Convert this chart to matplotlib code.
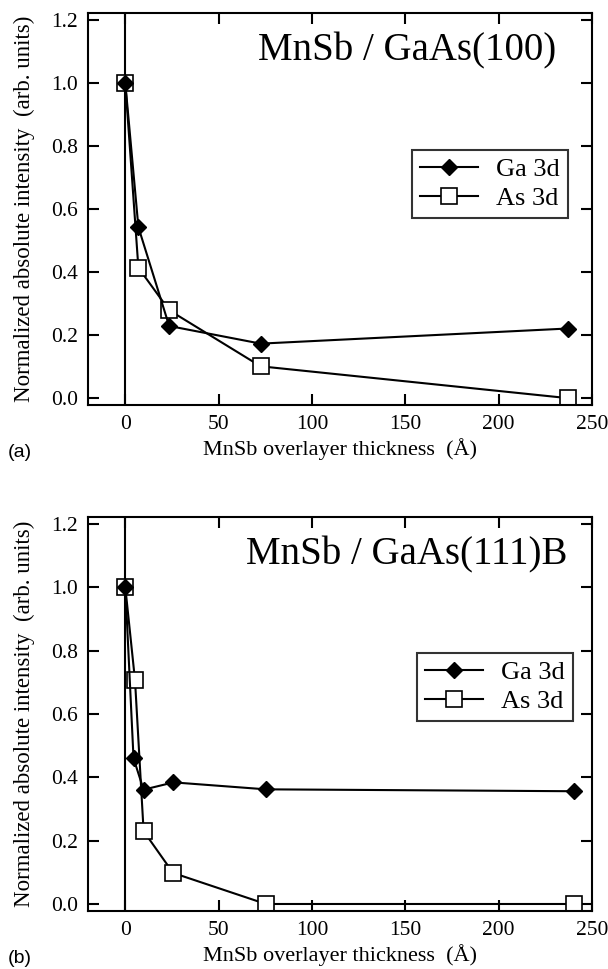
import matplotlib
matplotlib.use('Agg')
import matplotlib.pyplot as plt

# panel (a): MnSb / GaAs(100)
x_a_ga = [0, 7, 23.5, 72.5, 237]
ga_a = [1.0, 0.543, 0.229, 0.173, 0.221]
x_a_as = [0, 7, 23.5, 72.5, 237]
as_a = [1.0, 0.414, 0.279, 0.101, 0.0]

# panel (b): MnSb / GaAs(111)B
x_b_ga = [0, 4.4, 9.8, 25.8, 75.3, 240.5]
ga_b = [1.0, 0.46, 0.361, 0.384, 0.362, 0.356]
x_b_as = [0, 5.2, 9.8, 25.6, 75.3, 240.5]
as_b = [1.0, 0.706, 0.230, 0.098, 0.0, 0.0]

titles = ['MnSb / GaAs(100)', 'MnSb / GaAs(111)B']
tags = ['(a)', '(b)']
xticks = [0, 50, 100, 150, 200, 250]
yticks = [0.0, 0.2, 0.4, 0.6, 0.8, 1.0, 1.2]

plt.rcParams['font.family'] = 'Liberation Serif'
fig = plt.figure(figsize=(6.08, 9.69), dpi=100)
ax1 = fig.add_axes([0.1447, 0.582, 0.829, 0.4043])
ax2 = fig.add_axes([0.1447, 0.0599, 0.829, 0.4066])

panels = [(ax1, x_a_ga, ga_a, x_a_as, as_a), (ax2, x_b_ga, ga_b, x_b_as, as_b)]
leg_anchor = [(0.952, 0.651), (0.962, 0.655)]
for i, (ax, xg, yg, xa, ya) in enumerate(panels):
    ax.axvline(0, color='black', lw=1.5, zorder=1)
    ax.plot(xg, yg, color='black', lw=1.5, marker='D', ms=8, mfc='black',
            mec='black', label='Ga 3d', zorder=3)
    ax.plot(xa, ya, color='black', lw=1.5, marker='s', ms=12, mfc='white',
            mec='black', mew=1.2, label='As 3d', zorder=2)
    ax.set_xlim(-20, 250)
    ax.set_ylim(-0.022, 1.222)
    ax.set_xticks(xticks)
    ax.set_yticks(yticks)
    ax.set_yticklabels(['%.1f' % v for v in yticks])
    ax.tick_params(direction='in', length=8, width=1.5, top=True, right=True,
                   labelsize=15.5, pad=7)
    for s in ax.spines.values():
        s.set_linewidth(1.5)
    ax.set_xlabel('MnSb overlayer thickness  (Å)', fontsize=16, labelpad=3)
    ax.set_ylabel('Normalized absolute intensity  (arb. units)', fontsize=16.5,
                  labelpad=12)
    ax.text(0.633, 0.905, titles[i], transform=ax.transAxes, ha='center',
            va='center', fontsize=28)
    leg = ax.legend(loc='upper right', bbox_to_anchor=leg_anchor[i],
                    borderaxespad=0, fontsize=19, frameon=True, fancybox=False,
                    edgecolor='black', handlelength=2.2, borderpad=0.3,
                    labelspacing=0.2, handletextpad=0.7)
    leg.get_frame().set_linewidth(1.5)
    ax.text(-0.16, -0.12, tags[i], transform=ax.transAxes, fontsize=14,
            family='Liberation Sans', ha='left', va='center')

fig.savefig('out.png', dpi=100)
